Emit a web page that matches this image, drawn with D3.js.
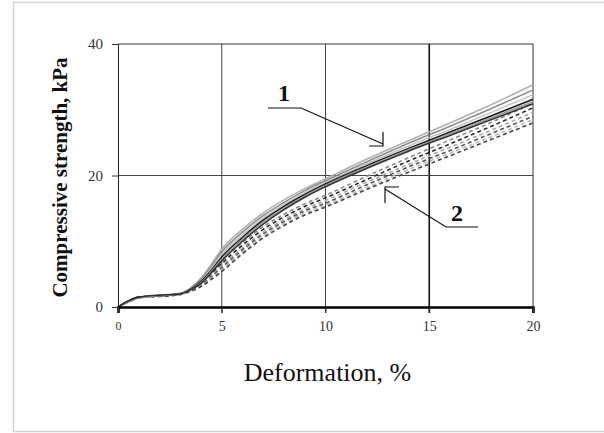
<!DOCTYPE html>
<html>
<head>
<meta charset="utf-8">
<script src="https://cdn.jsdelivr.net/npm/d3@7/dist/d3.min.js"></script>
<style>
  html, body { margin: 0; padding: 0; background: #fff; }
  svg { display: block; }
  text { font-family: "Liberation Serif", "Times New Roman", serif; }
</style>
</head>
<body>
<svg id="chart" width="604" height="433"></svg>
<script>
// Deformation (%) sampling points shared by all specimens
const deformation = [0, 0.5, 1, 2, 3, 3.5, 4, 4.5, 5, 6, 7, 8, 9, 10, 12, 14, 16, 18, 20];

// Group 1 specimens (solid curves), compressive strength in kPa
const group1 = [
  [0, 0.9, 1.5, 1.8, 2.1, 2.9, 4.4, 6.5, 8.8, 11.8, 14.3, 16.3, 18.0, 19.5, 22.5, 25.3, 28.0, 30.8, 33.8],
  [0, 0.8, 1.4, 1.7, 2.0, 2.8, 4.2, 6.2, 8.4, 11.4, 13.9, 15.9, 17.7, 19.2, 22.1, 24.9, 27.5, 30.2, 33.0],
  [0, 0.8, 1.4, 1.7, 2.0, 2.7, 4.0, 5.9, 8.0, 11.0, 13.5, 15.6, 17.4, 18.9, 21.8, 24.5, 27.0, 29.6, 32.3],
  [0, 0.9, 1.5, 1.7, 2.0, 2.7, 3.9, 5.6, 7.6, 10.6, 13.2, 15.3, 17.1, 18.7, 21.5, 24.1, 26.6, 29.1, 31.6],
  [0, 0.8, 1.4, 1.7, 2.0, 2.6, 3.7, 5.4, 7.3, 10.3, 12.9, 15.0, 16.9, 18.5, 21.3, 23.9, 26.3, 28.8, 31.2],
  [0, 0.9, 1.5, 1.8, 2.0, 2.6, 3.6, 5.2, 7.0, 10.0, 12.6, 14.8, 16.7, 18.3, 21.1, 23.7, 26.1, 28.5, 30.9]
];

// Group 2 specimens (dashed curves), compressive strength in kPa
const group2 = [
  [0, 0.8, 1.4, 1.7, 2.0, 2.6, 3.6, 5.2, 7.0, 9.8, 12.2, 14.1, 15.7, 17.0, 19.9, 22.7, 25.4, 28.1, 31.0],
  [0, 0.9, 1.5, 1.7, 2.0, 2.6, 3.5, 5.0, 6.6, 9.4, 11.8, 13.7, 15.3, 16.6, 19.4, 22.2, 24.8, 27.5, 30.3],
  [0, 0.8, 1.4, 1.7, 2.0, 2.5, 3.4, 4.8, 6.3, 9.0, 11.4, 13.3, 14.9, 16.2, 19.0, 21.7, 24.3, 26.9, 29.6],
  [0, 0.8, 1.4, 1.7, 1.9, 2.5, 3.3, 4.6, 6.0, 8.7, 11.1, 13.0, 14.6, 15.8, 18.6, 21.3, 23.8, 26.4, 29.0],
  [0, 0.9, 1.5, 1.7, 2.0, 2.4, 3.2, 4.4, 5.7, 8.4, 10.8, 12.7, 14.3, 15.5, 18.2, 20.9, 23.4, 25.9, 28.5],
  [0, 0.8, 1.4, 1.6, 1.9, 2.4, 3.1, 4.2, 5.4, 8.1, 10.5, 12.4, 14.0, 15.2, 17.9, 20.5, 23.0, 25.5, 28.0]
];

const xTicks = [0, 5, 10, 15, 20];
const yTicks = [0, 20, 40];
const solidColors = ["#b0b0b0", "#8c8c8c", "#c4c4c4", "#1a1a1a", "#9a9a9a", "#333333"];
const dashedColors = ["#888888", "#2a2a2a", "#a8a8a8", "#555555", "#b8b8b8", "#444444"];

const svg = d3.select("#chart");

// light frame around the figure
svg.append("rect")
  .attr("x", 13.5).attr("y", 2.5)
  .attr("width", 620).attr("height", 429)
  .attr("fill", "#fff").attr("stroke", "#d2d2d2").attr("stroke-width", 1.5);

const plot = { left: 118, right: 533, top: 44, bottom: 307 };
const x = d3.scaleLinear().domain([0, 20]).range([plot.left, plot.right]);
const y = d3.scaleLinear().domain([0, 40]).range([plot.bottom, plot.top]);

// grid lines
const g = svg.append("g");
[5, 10, 15].forEach(v => {
  g.append("line")
    .attr("x1", x(v)).attr("x2", x(v))
    .attr("y1", plot.top).attr("y2", plot.bottom + 6)
    .attr("stroke", v === 15 ? "#111" : "#444")
    .attr("stroke-width", v === 15 ? 1.6 : 1);
});
g.append("line")
  .attr("x1", plot.left).attr("x2", plot.right)
  .attr("y1", y(20)).attr("y2", y(20))
  .attr("stroke", "#444").attr("stroke-width", 1);
// top and right frame of the plot area
g.append("line").attr("x1", plot.left).attr("x2", plot.right)
  .attr("y1", plot.top).attr("y2", plot.top).attr("stroke", "#333").attr("stroke-width", 1);
g.append("line").attr("x1", plot.right).attr("x2", plot.right)
  .attr("y1", plot.top).attr("y2", plot.bottom + 6).attr("stroke", "#333").attr("stroke-width", 1);

// curves
const line = d3.line()
  .x((d, i) => x(deformation[i]))
  .y(d => y(d))
  .curve(d3.curveMonotoneX);

const curves = svg.append("g").attr("fill", "none");
group2.forEach((s, i) => {
  curves.append("path").datum(s).attr("d", line)
    .attr("stroke", dashedColors[i]).attr("stroke-width", 1.6)
    .attr("stroke-dasharray", "4,3");
});
group1.forEach((s, i) => {
  curves.append("path").datum(s).attr("d", line)
    .attr("stroke", solidColors[i]).attr("stroke-width", 1.6);
});

// axes
const xAxis = svg.append("g")
  .attr("transform", `translate(0,${plot.bottom})`)
  .call(d3.axisBottom(x).tickValues(xTicks).tickSize(6).tickPadding(8).tickFormat(d3.format("d")));
xAxis.select(".domain").attr("stroke", "#000").attr("stroke-width", 2.6);
xAxis.selectAll(".tick line").attr("stroke", "#333");
xAxis.selectAll(".tick text")
  .attr("font-family", "Liberation Serif, serif")
  .attr("font-size", d => d === 0 ? 12 : 14)
  .attr("fill", "#333");

const yAxis = svg.append("g")
  .attr("transform", `translate(${plot.left},0)`)
  .call(d3.axisLeft(y).tickValues(yTicks).tickSize(6).tickPadding(9).tickFormat(d3.format("d")));
yAxis.select(".domain").attr("stroke", "#222").attr("stroke-width", 1);
yAxis.selectAll(".tick line").attr("stroke", "#333");
yAxis.selectAll(".tick text")
  .attr("font-family", "Liberation Serif, serif")
  .attr("font-size", 15).attr("fill", "#333");

// axis titles
svg.append("text")
  .attr("transform", `translate(67,${(plot.top + plot.bottom) / 2 + 2}) rotate(-90)`)
  .attr("text-anchor", "middle")
  .attr("font-size", 21).attr("font-weight", "bold").attr("fill", "#111")
  .text("Compressive strength, kPa");

svg.append("text")
  .attr("x", (plot.left + plot.right) / 2 + 2).attr("y", 381)
  .attr("text-anchor", "middle")
  .attr("font-size", 26).attr("fill", "#111")
  .text("Deformation, %");

// callouts for the two groups
const ann = svg.append("g").attr("fill", "none").attr("stroke", "#111").attr("stroke-width", 1);
// group 1
ann.append("path").attr("d", "M268,108 H301 L383,144").attr("stroke-width", 1.2);
ann.append("path").attr("d", "M383,132 V146 H369").attr("stroke-width", 1.2);
svg.append("text").attr("x", 284).attr("y", 101).attr("text-anchor", "middle")
  .attr("font-size", 24).attr("font-weight", "bold").attr("fill", "#111").text("1");
// group 2
ann.append("path").attr("d", "M478,227 H446 L385,189").attr("stroke-width", 1.2);
ann.append("path").attr("d", "M385,203 V187 H399").attr("stroke-width", 1.2);
svg.append("text").attr("x", 457).attr("y", 221).attr("text-anchor", "middle")
  .attr("font-size", 24).attr("font-weight", "bold").attr("fill", "#111").text("2");
</script>
</body>
</html>
